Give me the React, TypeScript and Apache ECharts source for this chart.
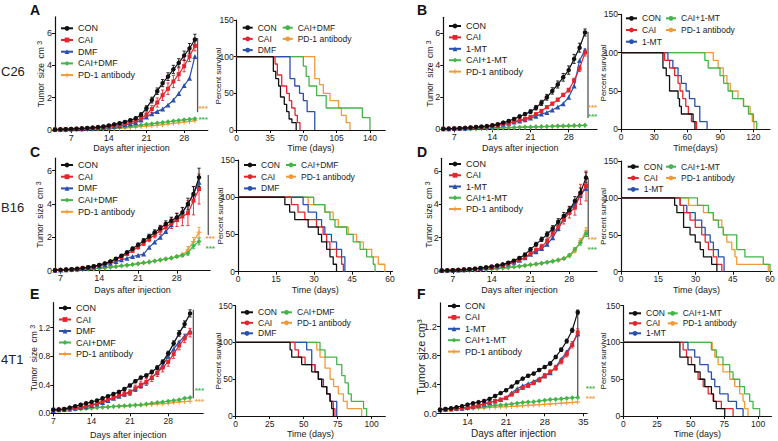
import React, { useEffect, useRef } from "react";
import * as echarts from "echarts";

const FONT = "'Liberation Sans', Arial, Helvetica, sans-serif";
const BLACK = "#111111";
const RED = "#e3262d";
const BLUE = "#2a50ad";
const GREEN = "#43b54a";
const ORANGE = "#f29a35";
const INK = "#222222";

// ---------- categories ----------
const GROUPS_DMF = ["CON", "CAI", "DMF", "CAI+DMF", "PD-1 antibody"];
const GROUPS_MT = ["CON", "CAI", "1-MT", "CAI+1-MT", "PD-1 antibody"];

// ---------- tick labels ----------
const TUMOR_X_TICKS = [7, 14, 21, 28];
const TUMOR_X_TICKS_F = [14, 21, 28, 35];
const TUMOR_Y_TICKS = [0, 2, 4, 6];
const TUMOR_Y_TICKS_4T1 = [0, 0.4, 0.8, 1.2];
const SURV_Y_TICKS = [0, 50, 100, 150];
const SURV_X_TICKS_A = [0, 35, 70, 105, 140];
const SURV_X_TICKS_B = [0, 30, 60, 90, 120];
const SURV_X_TICKS_CD = [0, 15, 30, 45, 60];
const SURV_X_TICKS_EF = [0, 25, 50, 75, 100];

// ---------- tumour growth: measurement days ----------
const DAYS_A = [4, 5, 6, 7, 8, 9, 10, 11, 12, 13, 14, 15, 16, 17, 18, 19, 20, 21, 22, 23, 24, 25, 26, 27, 28, 29, 30];
const DAYS_B = [5, 6, 7, 8, 9, 10, 11, 12, 13, 14, 15, 16, 17, 18, 19, 20, 21, 22, 23, 24, 25, 26, 27, 28, 29, 30, 31];
const DAYS_C = [6, 7, 8, 9, 10, 11, 12, 13, 14, 15, 16, 17, 18, 19, 20, 21, 22, 23, 24, 25, 26, 27, 28, 29, 30, 31, 32];
const DAYS_D = [5, 6, 7, 8, 9, 10, 11, 12, 13, 14, 15, 16, 17, 18, 19, 20, 21, 22, 23, 24, 25, 26, 27, 28, 29, 30, 31];
const DAYS_E = [7, 8, 9, 10, 11, 12, 13, 14, 15, 16, 17, 18, 19, 20, 21, 22, 23, 24, 25, 26, 27, 28, 29, 30, 31, 32];
const DAYS_F = [9, 10, 11, 12, 13, 14, 15, 16, 17, 18, 19, 20, 21, 22, 23, 24, 25, 26, 27, 28, 29, 30, 31, 32, 33, 34];

// ---------- tumour size (cm3) ----------
const A_CON = [0.03, 0.04, 0.05, 0.06, 0.08, 0.10, 0.12, 0.15, 0.18, 0.22, 0.28, 0.35, 0.42, 0.50, 0.60, 0.72, 0.95, 1.35, 1.85, 2.40, 2.90, 3.30, 3.75, 4.15, 4.60, 5.05, 5.60];
const A_CAI = [0.03, 0.04, 0.05, 0.06, 0.07, 0.09, 0.11, 0.13, 0.16, 0.19, 0.23, 0.28, 0.33, 0.40, 0.48, 0.58, 0.72, 0.95, 1.30, 1.70, 2.15, 2.55, 3.00, 3.45, 3.95, 4.55, 5.20];
const A_DMF = [0.03, 0.04, 0.05, 0.06, 0.07, 0.08, 0.10, 0.12, 0.14, 0.16, 0.19, 0.23, 0.27, 0.32, 0.38, 0.46, 0.62, 0.80, 1.00, 1.15, 1.30, 1.55, 1.85, 2.25, 2.75, 3.20, 4.55];
const A_COMBO = [0.02, 0.02, 0.03, 0.03, 0.04, 0.05, 0.06, 0.07, 0.08, 0.10, 0.12, 0.14, 0.17, 0.20, 0.23, 0.27, 0.31, 0.35, 0.39, 0.43, 0.47, 0.51, 0.55, 0.59, 0.63, 0.66, 0.70];
const A_PD1 = [0.01, 0.01, 0.02, 0.02, 0.03, 0.03, 0.04, 0.05, 0.06, 0.07, 0.08, 0.09, 0.11, 0.13, 0.15, 0.18, 0.21, 0.24, 0.27, 0.30, 0.33, 0.37, 0.41, 0.45, 0.49, 0.53, 0.57];
const A_CON_ERR = [0.01, 0.01, 0.01, 0.01, 0.01, 0.02, 0.02, 0.02, 0.03, 0.03, 0.04, 0.04, 0.05, 0.06, 0.07, 0.09, 0.12, 0.15, 0.18, 0.20, 0.22, 0.24, 0.25, 0.26, 0.28, 0.30, 0.32];
const A_CAI_ERR = [0.01, 0.01, 0.01, 0.01, 0.01, 0.02, 0.02, 0.02, 0.03, 0.03, 0.04, 0.04, 0.05, 0.06, 0.08, 0.10, 0.12, 0.18, 0.22, 0.28, 0.32, 0.36, 0.38, 0.38, 0.35, 0.32, 0.30];

const B_CON = [0.03, 0.04, 0.05, 0.07, 0.09, 0.11, 0.14, 0.17, 0.20, 0.25, 0.32, 0.42, 0.52, 0.65, 0.80, 0.95, 1.10, 1.35, 1.65, 2.00, 2.40, 2.80, 3.25, 3.70, 4.40, 5.10, 6.05];
const B_CAI = [0.03, 0.04, 0.05, 0.06, 0.08, 0.10, 0.12, 0.15, 0.18, 0.22, 0.28, 0.34, 0.40, 0.48, 0.56, 0.65, 0.78, 0.95, 1.15, 1.38, 1.60, 1.85, 2.15, 2.45, 3.05, 3.80, 4.80];
const B_MT = [0.03, 0.04, 0.05, 0.06, 0.07, 0.09, 0.11, 0.13, 0.16, 0.20, 0.25, 0.31, 0.38, 0.45, 0.52, 0.60, 0.70, 0.82, 0.95, 1.05, 1.20, 1.40, 1.60, 2.00, 2.70, 4.30, 4.95];
const B_COMBO = [0.02, 0.02, 0.03, 0.03, 0.04, 0.04, 0.05, 0.06, 0.07, 0.08, 0.09, 0.10, 0.11, 0.12, 0.13, 0.14, 0.15, 0.16, 0.17, 0.18, 0.19, 0.20, 0.21, 0.22, 0.23, 0.24, 0.25];
const B_PD1 = [0.01, 0.02, 0.02, 0.03, 0.03, 0.04, 0.04, 0.05, 0.06, 0.07, 0.08, 0.09, 0.10, 0.11, 0.12, 0.13, 0.14, 0.15, 0.16, 0.17, 0.18, 0.19, 0.20, 0.21, 0.22, 0.23, 0.24];
const B_CON_ERR = [0.01, 0.01, 0.01, 0.01, 0.01, 0.02, 0.02, 0.02, 0.03, 0.03, 0.04, 0.05, 0.06, 0.07, 0.09, 0.10, 0.12, 0.14, 0.16, 0.18, 0.20, 0.22, 0.24, 0.26, 0.28, 0.28, 0.22];
const B_CAI_ERR = [0.01, 0.01, 0.01, 0.01, 0.01, 0.01, 0.02, 0.02, 0.02, 0.03, 0.03, 0.03, 0.04, 0.04, 0.05, 0.05, 0.06, 0.06, 0.07, 0.08, 0.09, 0.10, 0.10, 0.12, 0.14, 0.18, 0.22];

const C_CON = [0.03, 0.05, 0.07, 0.09, 0.12, 0.16, 0.21, 0.27, 0.34, 0.44, 0.56, 0.72, 0.90, 1.10, 1.32, 1.55, 1.80, 2.05, 2.30, 2.55, 2.80, 3.00, 3.20, 3.50, 4.00, 4.60, 5.60];
const C_CAI = [0.03, 0.04, 0.06, 0.08, 0.11, 0.15, 0.20, 0.25, 0.32, 0.41, 0.52, 0.66, 0.82, 1.00, 1.20, 1.42, 1.65, 1.90, 2.15, 2.40, 2.60, 2.85, 3.05, 3.25, 3.45, 4.20, 4.90];
const C_DMF = [0.03, 0.04, 0.06, 0.08, 0.10, 0.13, 0.17, 0.22, 0.28, 0.36, 0.45, 0.55, 0.65, 0.75, 0.85, 0.92, 1.00, 1.40, 1.72, 2.00, 2.35, 2.75, 3.10, 3.50, 4.00, 4.60, 5.30];
const C_COMBO = [0.02, 0.03, 0.04, 0.05, 0.06, 0.08, 0.10, 0.12, 0.15, 0.18, 0.21, 0.25, 0.29, 0.33, 0.37, 0.42, 0.47, 0.52, 0.58, 0.64, 0.70, 0.76, 0.85, 0.92, 1.05, 1.50, 1.75];
const C_PD1 = [0.02, 0.03, 0.04, 0.05, 0.06, 0.08, 0.10, 0.12, 0.15, 0.18, 0.21, 0.25, 0.29, 0.33, 0.37, 0.42, 0.47, 0.52, 0.58, 0.64, 0.70, 0.76, 0.85, 0.95, 1.25, 1.75, 2.30];
const C_CON_ERR = [0.01, 0.01, 0.01, 0.01, 0.02, 0.02, 0.02, 0.03, 0.03, 0.04, 0.05, 0.06, 0.07, 0.08, 0.10, 0.11, 0.12, 0.14, 0.15, 0.17, 0.19, 0.21, 0.24, 0.28, 0.35, 0.45, 0.55];
const C_CAI_ERR = [0.01, 0.01, 0.01, 0.01, 0.02, 0.02, 0.02, 0.03, 0.03, 0.04, 0.05, 0.06, 0.07, 0.08, 0.10, 0.12, 0.14, 0.16, 0.18, 0.22, 0.26, 0.32, 0.40, 0.55, 0.75, 0.85, 0.90];
const C_COMBO_ERR = [0.01, 0.01, 0.01, 0.01, 0.01, 0.01, 0.01, 0.01, 0.02, 0.02, 0.02, 0.02, 0.02, 0.03, 0.03, 0.03, 0.03, 0.04, 0.04, 0.04, 0.05, 0.05, 0.06, 0.08, 0.12, 0.18, 0.20];
const C_PD1_ERR = [0.01, 0.01, 0.01, 0.01, 0.01, 0.01, 0.01, 0.01, 0.02, 0.02, 0.02, 0.02, 0.02, 0.03, 0.03, 0.03, 0.03, 0.04, 0.04, 0.04, 0.05, 0.05, 0.06, 0.10, 0.20, 0.25, 0.30];

const D_CON = [0.03, 0.04, 0.05, 0.07, 0.09, 0.11, 0.14, 0.18, 0.22, 0.27, 0.33, 0.40, 0.50, 0.62, 0.78, 0.98, 1.30, 1.60, 1.90, 2.20, 2.55, 2.95, 3.30, 3.65, 4.20, 4.70, 5.60];
const D_CAI = [0.03, 0.04, 0.05, 0.06, 0.08, 0.10, 0.13, 0.16, 0.20, 0.24, 0.29, 0.35, 0.43, 0.53, 0.66, 0.82, 1.05, 1.25, 1.45, 1.80, 2.25, 2.65, 3.10, 3.50, 3.80, 4.60, 5.10];
const D_MT = [0.03, 0.04, 0.05, 0.06, 0.08, 0.10, 0.12, 0.15, 0.19, 0.23, 0.28, 0.34, 0.42, 0.52, 0.64, 0.80, 1.00, 1.15, 1.35, 1.60, 2.00, 2.55, 3.10, 3.60, 4.00, 4.55, 4.95];
const D_COMBO = [0.02, 0.02, 0.03, 0.04, 0.05, 0.06, 0.07, 0.09, 0.11, 0.13, 0.15, 0.18, 0.21, 0.25, 0.29, 0.33, 0.37, 0.42, 0.47, 0.53, 0.59, 0.66, 0.75, 0.95, 1.30, 1.70, 2.25];
const D_PD1 = [0.01, 0.02, 0.03, 0.03, 0.04, 0.05, 0.06, 0.08, 0.10, 0.12, 0.14, 0.17, 0.20, 0.24, 0.28, 0.32, 0.36, 0.41, 0.46, 0.52, 0.58, 0.65, 0.75, 0.90, 1.20, 1.80, 2.40];
const D_CON_ERR = [0.01, 0.01, 0.01, 0.01, 0.01, 0.02, 0.02, 0.02, 0.03, 0.03, 0.04, 0.05, 0.06, 0.07, 0.08, 0.09, 0.10, 0.12, 0.13, 0.15, 0.17, 0.19, 0.21, 0.23, 0.26, 0.28, 0.32];
const D_CAI_ERR = [0.01, 0.01, 0.01, 0.01, 0.01, 0.02, 0.02, 0.02, 0.03, 0.03, 0.04, 0.05, 0.06, 0.07, 0.08, 0.09, 0.11, 0.13, 0.15, 0.17, 0.20, 0.24, 0.28, 0.32, 0.45, 0.60, 0.90];
const D_COMBO_ERR = [0.01, 0.01, 0.01, 0.01, 0.01, 0.01, 0.01, 0.01, 0.02, 0.02, 0.02, 0.02, 0.02, 0.03, 0.03, 0.03, 0.03, 0.04, 0.04, 0.04, 0.05, 0.05, 0.06, 0.07, 0.10, 0.15, 0.18];
const D_PD1_ERR = [0.01, 0.01, 0.01, 0.01, 0.01, 0.01, 0.01, 0.01, 0.02, 0.02, 0.02, 0.02, 0.02, 0.03, 0.03, 0.03, 0.03, 0.04, 0.04, 0.04, 0.05, 0.05, 0.06, 0.07, 0.10, 0.15, 0.20];

const E_CON = [0.05, 0.055, 0.06, 0.08, 0.10, 0.12, 0.14, 0.16, 0.18, 0.21, 0.24, 0.27, 0.30, 0.34, 0.39, 0.45, 0.50, 0.53, 0.58, 0.64, 0.72, 0.84, 0.98, 1.12, 1.25, 1.40];
const E_CAI = [0.05, 0.05, 0.06, 0.07, 0.08, 0.09, 0.10, 0.12, 0.14, 0.17, 0.19, 0.22, 0.25, 0.27, 0.29, 0.35, 0.40, 0.44, 0.50, 0.57, 0.64, 0.72, 0.83, 0.95, 1.05, 1.13];
const E_DMF = [0.04, 0.05, 0.055, 0.06, 0.07, 0.08, 0.09, 0.11, 0.13, 0.15, 0.18, 0.21, 0.24, 0.27, 0.30, 0.34, 0.39, 0.44, 0.50, 0.57, 0.67, 0.80, 0.90, 1.00, 1.08, 1.15];
const E_COMBO = [0.04, 0.045, 0.05, 0.055, 0.06, 0.065, 0.07, 0.075, 0.08, 0.085, 0.09, 0.095, 0.10, 0.105, 0.11, 0.115, 0.12, 0.13, 0.14, 0.15, 0.16, 0.17, 0.18, 0.19, 0.21, 0.22];
const E_PD1 = [0.04, 0.045, 0.05, 0.055, 0.06, 0.065, 0.07, 0.075, 0.08, 0.085, 0.09, 0.095, 0.10, 0.10, 0.105, 0.11, 0.115, 0.12, 0.125, 0.13, 0.135, 0.14, 0.15, 0.16, 0.165, 0.17];
const E_CON_ERR = [0.005, 0.005, 0.005, 0.006, 0.007, 0.008, 0.009, 0.01, 0.01, 0.012, 0.013, 0.014, 0.015, 0.016, 0.018, 0.02, 0.02, 0.022, 0.024, 0.026, 0.028, 0.03, 0.035, 0.04, 0.045, 0.05];
const E_CAI_ERR = [0.005, 0.005, 0.005, 0.006, 0.007, 0.008, 0.01, 0.012, 0.015, 0.018, 0.02, 0.025, 0.03, 0.035, 0.04, 0.045, 0.05, 0.05, 0.055, 0.055, 0.06, 0.06, 0.06, 0.06, 0.06, 0.06];

const F_CON = [0.05, 0.06, 0.07, 0.085, 0.10, 0.12, 0.14, 0.155, 0.17, 0.20, 0.24, 0.28, 0.32, 0.37, 0.43, 0.48, 0.52, 0.55, 0.60, 0.64, 0.69, 0.78, 0.88, 1.00, 1.15, 1.40];
const F_CAI = [0.05, 0.055, 0.06, 0.065, 0.07, 0.08, 0.09, 0.11, 0.13, 0.15, 0.17, 0.19, 0.21, 0.26, 0.31, 0.35, 0.38, 0.42, 0.46, 0.52, 0.57, 0.63, 0.72, 0.82, 0.95, 1.12];
const F_MT = [0.05, 0.055, 0.06, 0.065, 0.07, 0.08, 0.09, 0.11, 0.13, 0.15, 0.17, 0.19, 0.22, 0.28, 0.34, 0.38, 0.41, 0.44, 0.48, 0.52, 0.56, 0.64, 0.75, 0.85, 0.96, 1.10];
const F_COMBO = [0.05, 0.055, 0.06, 0.065, 0.07, 0.075, 0.08, 0.085, 0.09, 0.10, 0.11, 0.115, 0.12, 0.13, 0.14, 0.15, 0.155, 0.16, 0.17, 0.18, 0.19, 0.195, 0.20, 0.21, 0.215, 0.22];
const F_PD1 = [0.05, 0.052, 0.055, 0.06, 0.062, 0.065, 0.07, 0.072, 0.075, 0.08, 0.085, 0.09, 0.092, 0.095, 0.10, 0.105, 0.11, 0.115, 0.12, 0.125, 0.13, 0.135, 0.14, 0.145, 0.15, 0.155];
const F_CON_ERR = [0.004, 0.004, 0.005, 0.005, 0.006, 0.007, 0.008, 0.008, 0.009, 0.01, 0.011, 0.012, 0.013, 0.014, 0.015, 0.016, 0.017, 0.018, 0.019, 0.02, 0.021, 0.022, 0.024, 0.026, 0.028, 0.03];
const F_CAI_ERR = [0.004, 0.004, 0.005, 0.005, 0.006, 0.007, 0.008, 0.009, 0.01, 0.011, 0.012, 0.013, 0.015, 0.017, 0.019, 0.021, 0.023, 0.025, 0.027, 0.03, 0.032, 0.034, 0.037, 0.04, 0.045, 0.05];

// significance bracket: [x day, top, bottom], stars: [value, colour index]
const SIG_A = { x: 30.5, top: 5.69, bottom: 1.1, stars: [[1.3, 4], [0.68, 3]] };
const SIG_B = { x: 31.55, top: 6.1, bottom: 0.7, stars: [[1.37, 4], [0.79, 3]] };
const SIG_C = { x: 33.67, top: 5.74, bottom: 2.14, stars: [[1.94, 4], [1.34, 3]] };
const SIG_D = { x: 31.4, top: 5.58, bottom: 2.04, stars: [[1.9, 4], [1.3, 3]] };
const SIG_E = { x: 32.6, top: 1.45, bottom: 0.21, stars: [[0.32, 3], [0.16, 4]] };
const SIG_F = { x: 34.0, top: 1.41, bottom: 0.24, stars: [[0.35, 3], [0.21, 4]] };

// ---------- survival (Kaplan-Meier: [day, percent]) ----------
const SA_CON = [[0, 100], [38.5, 80], [41, 70], [44, 60], [46, 45], [50, 35], [52.5, 25], [55, 15], [58, 10], [62.5, 0]];
const SA_CAI = [[0, 100], [40.3, 90], [42.7, 75], [47.3, 60], [52.5, 50], [55.3, 40], [57.8, 30], [61.3, 20], [63.7, 10], [66.5, 0]];
const SA_DMF = [[0, 100], [56, 70], [61, 60], [66, 50], [70, 40], [74, 25], [82, 0]];
const SA_COMBO = [[0, 100], [70, 87], [73, 73], [76, 60], [84, 47], [94, 30], [132, 17], [140, 0]];
const SA_PD1 = [[0, 100], [82, 70], [87, 62], [91, 50], [98, 40], [107, 30], [110, 20], [115, 10], [119, 0]];

const SB_CON = [[0, 100], [38, 80], [41, 70], [44, 50], [51.7, 40], [53, 30], [54.7, 20], [65.3, 10], [67, 0]];
const SB_CAI = [[0, 100], [39.5, 90], [44, 80], [48.6, 70], [51.7, 60], [53.5, 50], [56, 40], [58.7, 30], [61, 20], [63.8, 10], [68.4, 0]];
const SB_MT = [[0, 100], [42.5, 90], [47, 80], [51.7, 70], [54.7, 60], [59, 50], [62, 40], [66.9, 30], [71.4, 10], [78, 0]];
const SB_COMBO = [[0, 100], [76, 90], [79, 80], [89.7, 70], [93, 60], [97, 50], [101, 40], [111, 30], [115.5, 20], [120, 10], [123, 0]];
const SB_PD1 = [[0, 100], [83.6, 90], [88, 80], [92.7, 70], [96, 60], [99, 50], [106, 40], [111, 30], [117, 20], [119, 10], [120.5, 0]];

const SC_CON = [[0, 100], [18.5, 90], [20.4, 80], [22.4, 70], [27.7, 60], [31.7, 50], [33, 40], [35, 30], [36.3, 20], [37.6, 10], [38.9, 0]];
const SC_CAI = [[0, 100], [21.1, 90], [23.7, 80], [26.4, 70], [31, 60], [33.6, 50], [35, 40], [36.3, 30], [38.9, 20], [40.9, 10], [41.6, 0]];
const SC_DMF = [[0, 100], [25.7, 90], [27.7, 80], [31, 70], [33, 60], [34.3, 50], [36.9, 40], [38.9, 30], [40.9, 20], [42.2, 0]];
const SC_COMBO = [[0, 100], [29.9, 90], [34.3, 80], [36.3, 70], [38.3, 60], [42.9, 50], [45.5, 40], [48.2, 30], [50.8, 20], [53.4, 10], [54.1, 0]];
const SC_PD1 = [[0, 100], [27.7, 90], [34.3, 80], [37.6, 70], [39.6, 60], [43.5, 50], [46.8, 40], [49.5, 30], [52.8, 20], [55.4, 10], [58, 0]];

const SD_CON = [[0, 100], [21.6, 90], [22.5, 80], [25.2, 60], [27.8, 50], [29.9, 40], [31.9, 30], [33.2, 20], [36.5, 10], [38.6, 0]];
const SD_CAI = [[0, 100], [23.8, 90], [25.2, 80], [27.8, 70], [29.9, 60], [32.5, 50], [33.9, 40], [35.2, 30], [37.2, 20], [38.6, 10], [40.6, 0]];
const SD_MT = [[0, 100], [23.8, 90], [26.5, 80], [29.9, 70], [32.5, 60], [33.9, 50], [35.9, 40], [37.2, 30], [39.2, 20], [41.5, 0]];
const SD_COMBO = [[0, 100], [30.8, 90], [35.2, 80], [37.2, 70], [39.2, 60], [41.2, 50], [46.6, 30], [49.9, 20], [57.3, 10], [60, 0]];
const SD_PD1 = [[0, 100], [27.2, 90], [33.2, 80], [37.2, 70], [40.6, 60], [41.2, 50], [42.6, 40], [44.6, 30], [45.9, 20], [46.6, 10], [59.3, 0]];

const SE_CON = [[0, 100], [40, 90], [41.2, 80], [48.5, 70], [55.9, 60], [60.8, 50], [63.2, 40], [66.9, 30], [69.4, 20], [70.6, 10], [71.8, 0]];
const SE_CAI = [[0, 100], [43.6, 90], [46.1, 80], [51, 70], [58.3, 60], [60.8, 50], [63.2, 40], [66.9, 30], [69.4, 20], [71.8, 10], [73, 0]];
const SE_DMF = [[0, 100], [52.2, 90], [55.9, 70], [58.3, 60], [60.8, 50], [64.5, 40], [66.9, 30], [69.4, 20], [74.3, 0]];
const SE_COMBO = [[0, 100], [62, 90], [65.7, 80], [74.3, 70], [78, 55], [80.4, 45], [82.8, 30], [85, 20], [94, 10], [96.3, 0]];
const SE_PD1 = [[0, 100], [59.6, 90], [62, 80], [65.7, 65], [69.4, 50], [72, 40], [75.5, 30], [79.2, 20], [82, 10], [92.6, 0]];

const SF_CON = [[0, 100], [42, 80], [48, 70], [53, 60], [57, 50], [60.5, 40], [65.4, 30], [67, 20], [69, 10], [75.3, 0]];
const SF_CAI = [[0, 100], [44.4, 90], [46.9, 80], [50.6, 70], [53, 60], [55.5, 50], [59.3, 40], [63, 30], [66.7, 20], [72.8, 10], [81.5, 0]];
const SF_MT = [[0, 100], [48, 90], [53, 80], [56.8, 70], [63, 60], [65.4, 50], [67.9, 40], [71.6, 30], [77.8, 20], [84, 10], [88.9, 0]];
const SF_COMBO = [[0, 100], [65.4, 90], [69, 80], [74, 70], [79, 60], [81.5, 50], [86.4, 40], [90, 30], [93.8, 20], [96.3, 10], [101.2, 0]];
const SF_PD1 = [[0, 100], [66, 90], [67.9, 80], [70.4, 70], [74, 60], [79, 50], [82.7, 40], [86.4, 30], [88.9, 20], [90.1, 10], [92.6, 0]];

// ---------- styles ----------
const COLORS = [BLACK, RED, BLUE, GREEN, ORANGE];
const SYMBOLS = ["circle", "rect", "triangle", "diamond", "path://M2,0L3,0L3,5L2,5Z M0,2L5,2L5,3L0,3Z"];
const SYMBOL_SIZES = [4.5, 4, 5, 5, 5];

const TUMOR_PANELS: any[] = [
  { id: "A", groups: GROUPS_DMF, days: DAYS_A, values: [A_CON, A_CAI, A_DMF, A_COMBO, A_PD1], errors: [A_CON_ERR, A_CAI_ERR, null, null, null], xTicks: TUMOR_X_TICKS, yTicks: TUMOR_Y_TICKS, sig: SIG_A,
    L: { grid: [55, 16.8, 152.8, 113.2], xMin: 4, xMax: 32.4, yMax: 7, xGap: 13.5, yTitle: [40.5, 74], legend: [60, 23.3, 1.7], starDx: 5.5, lab: 9, nameFs: 8.5 } },
  { id: "B", groups: GROUPS_MT, days: DAYS_B, values: [B_CON, B_CAI, B_MT, B_COMBO, B_PD1], errors: [B_CON_ERR, B_CAI_ERR, null, null, null], xTicks: TUMOR_X_TICKS, yTicks: TUMOR_Y_TICKS, sig: SIG_B,
    L: { grid: [443.3, 17.3, 153.7, 112], xMin: 5, xMax: 33.2, yMax: 7, xGap: 14, yTitle: [429.5, 73.5], legend: [448, 21, 1.4], starDx: 4.5, lab: 9, nameFs: 8.5 } },
  { id: "C", groups: GROUPS_DMF, days: DAYS_C, values: [C_CON, C_CAI, C_DMF, C_COMBO, C_PD1], errors: [C_CON_ERR, C_CAI_ERR, null, C_COMBO_ERR, C_PD1_ERR], xTicks: TUMOR_X_TICKS, yTicks: TUMOR_Y_TICKS, sig: SIG_C,
    L: { grid: [55, 158.2, 155.1, 112.5], xMin: 6, xMax: 34, yMax: 6.75, xGap: 14.5, yTitle: [39.5, 214.5], legend: [60, 160, 1.7], starDx: 2, lab: 9, nameFs: 8.5 } },
  { id: "D", groups: GROUPS_MT, days: DAYS_D, values: [D_CON, D_CAI, D_MT, D_COMBO, D_PD1], errors: [D_CON_ERR, D_CAI_ERR, null, D_COMBO_ERR, D_PD1_ERR], xTicks: TUMOR_X_TICKS, yTicks: TUMOR_Y_TICKS, sig: SIG_D,
    L: { grid: [441.7, 158.3, 155.4, 112.7], xMin: 5, xMax: 33, yMax: 6.76, xGap: 14.5, yTitle: [428.5, 214.5], legend: [448, 159, 1.25], starDx: 4, lab: 9, nameFs: 8.5 } },
  { id: "E", groups: GROUPS_DMF, days: DAYS_E, values: [E_CON, E_CAI, E_DMF, E_COMBO, E_PD1], errors: [E_CON_ERR, E_CAI_ERR, null, null, null], xTicks: TUMOR_X_TICKS, yTicks: TUMOR_Y_TICKS_4T1, sig: SIG_E,
    L: { grid: [53.3, 302.7, 149.9, 110.6], xMin: 7, xMax: 34.4, yMax: 1.55, xGap: 17, yTitle: [33.5, 358], legend: [58, 303, 1.5], starDx: 6, lab: 8.5, nameFs: 8.5, dec: true } },
  { id: "F", groups: GROUPS_MT, days: DAYS_F, values: [F_CON, F_CAI, F_MT, F_COMBO, F_PD1], errors: [F_CON_ERR, F_CAI_ERR, null, null, null], xTicks: TUMOR_X_TICKS_F, yTicks: TUMOR_Y_TICKS_4T1, sig: SIG_F,
    L: { grid: [440, 302.8, 147.1, 110.5], xMin: 9, xMax: 35.7, yMax: 1.53, xGap: 15.5, yTitle: [421, 357], legend: [447, 301, 1.4], starDx: 12.7, lab: 9.5, nameFs: 11, big: true, dec: true } },
];

const SURV_PANELS: any[] = [
  { id: "SA", groups: GROUPS_DMF, curves: [SA_CON, SA_CAI, SA_DMF, SA_COMBO, SA_PD1], xTicks: SURV_X_TICKS_A, xName: "Time (days)",
    L: { grid: [236.7, 20, 148.5, 110], xMax: 156, xGap: 13.5, yTitle: [218.3, 76], leg: [[241.7, 22.7, 1.2, 10], [281.7, 22.7, 1.2, 10]] } },
  { id: "SB", groups: GROUPS_MT, curves: [SB_CON, SB_CAI, SB_MT, SB_COMBO, SB_PD1], xTicks: SURV_X_TICKS_B, xName: "Time(days)",
    L: { grid: [621, 14.4, 149, 114.9], xMax: 135, xGap: 14.5, yTitle: [603.3, 73], leg: [[625, 13.3, 1.7, 11], [665, 13.3, 1.7, 10]] } },
  { id: "SC", groups: GROUPS_DMF, curves: [SC_CON, SC_CAI, SC_DMF, SC_COMBO, SC_PD1], xTicks: SURV_X_TICKS_CD, xName: "Time (days)",
    L: { grid: [238, 160, 154.5, 111.7], xMax: 61, xGap: 13.5, yTitle: [220, 216], leg: [[243, 160, 1.7, 12], [285, 160, 1.7, 10]] } },
  { id: "SD", groups: GROUPS_MT, curves: [SD_CON, SD_CAI, SD_MT, SD_COMBO, SD_PD1], xTicks: SURV_X_TICKS_CD, xName: "Time (days)",
    L: { grid: [621, 161, 151, 110.7], xMax: 60.8, xGap: 13.5, yTitle: [603.3, 216.5], leg: [[626.7, 161.7, 1.3, 11], [665, 161.7, 1.3, 10]] } },
  { id: "SE", groups: GROUPS_DMF, curves: [SE_CON, SE_CAI, SE_DMF, SE_COMBO, SE_PD1], xTicks: SURV_X_TICKS_EF, xName: "Time (days)",
    L: { grid: [235.7, 305.7, 149.6, 110.3], xMax: 110, xGap: 13, yTitle: [218.3, 361], leg: [[240, 307.3, 0.5, 12], [280, 307.3, 0.5, 11]] } },
  { id: "SF", groups: GROUPS_MT, curves: [SF_CON, SF_CAI, SF_MT, SF_COMBO, SF_PD1], xTicks: SURV_X_TICKS_EF, xName: "Time (days)",
    L: { grid: [623.3, 305.7, 148.2, 110.3], xMax: 110, xGap: 13, yTitle: [603.3, 361], leg: [[628, 308.3, 0, 12], [666.7, 308.3, 0, 10]] } },
];

const ROW_LABELS = [["C26", 1, 65], ["B16", 1, 201], ["4T1", 1, 353]];
const PANEL_LETTERS = [["A", 30, 3], ["B", 417, 3], ["C", 30, 145], ["D", 417, 145], ["E", 30, 287], ["F", 417, 287]];

const stripKey = (n: string) => n.slice(n.indexOf("|") + 1);
const AXIS_LINE = { show: true, onZero: false, lineStyle: { color: BLACK, width: 1.2 } };
const NAME_STYLE = { color: INK, fontFamily: FONT, fontSize: 9 };

function yTitle(text: string, pos: number[], fontSize: number, rich?: any) {
  return {
    type: "text", x: pos[0], y: pos[1], rotation: Math.PI / 2, silent: true,
    style: { text, fontSize, fontFamily: FONT, fill: INK, align: "center", verticalAlign: "middle", rich },
  };
}

function buildOption() {
  const grid: any[] = [];
  const xAxis: any[] = [];
  const yAxis: any[] = [];
  const series: any[] = [];
  const legend: any[] = [];
  const graphic: any[] = [];
  let gi = 0;

  TUMOR_PANELS.forEach((p) => {
    const L = p.L;
    const lab = { color: INK, fontFamily: FONT, fontSize: L.lab, margin: 3 };
    grid.push({ left: L.grid[0], top: L.grid[1], width: L.grid[2], height: L.grid[3], containLabel: false, outerBoundsMode: "none" });
    xAxis.push({
      gridIndex: gi, type: "value", min: L.xMin, max: L.xMax,
      name: "Days after injection", nameLocation: "middle", nameGap: L.xGap, nameMoveOverlap: false,
      nameTextStyle: { ...NAME_STYLE, fontSize: L.big ? 10 : 9 },
      axisLine: AXIS_LINE, splitLine: { show: false },
      axisTick: { show: true, length: 3, lineStyle: { color: BLACK }, customValues: p.xTicks },
      axisLabel: { ...lab, margin: 3, customValues: p.xTicks },
    });
    yAxis.push({
      gridIndex: gi, type: "value", min: 0, max: L.yMax,
      axisLine: AXIS_LINE, splitLine: { show: false },
      axisTick: { show: true, length: 3, lineStyle: { color: BLACK }, customValues: p.yTicks },
      axisLabel: { ...lab, customValues: p.yTicks, formatter: (v: number) => (L.dec ? v.toFixed(1) : String(v)) },
    });
    graphic.push(
      L.big
        ? yTitle("Tumor size cm³", L.yTitle, L.nameFs)
        : yTitle("Tumor  size  cm {s|3}", L.yTitle, L.nameFs, { s: { fontSize: 7, fontFamily: FONT, fill: INK, verticalAlign: "top", lineHeight: 6 } })
    );
    const keys: string[] = [];
    for (let k = 4; k >= 0; k--) {
      const key = p.id + "|" + p.groups[k];
      const data = p.days.map((d: number, i: number) => [d, p.values[k][i]]);
      series.push({
        type: "line", name: key, xAxisIndex: gi, yAxisIndex: gi, data,
        symbol: SYMBOLS[k], symbolSize: SYMBOL_SIZES[k], showSymbol: true,
        lineStyle: { color: COLORS[k], width: 1.2 }, itemStyle: { color: COLORS[k] },
        z: 4 + (4 - k), clip: false,
      });
      const errs = p.errors[k];
      if (errs) {
        const color = COLORS[k];
        series.push({
          type: "custom", name: key + "|err", xAxisIndex: gi, yAxisIndex: gi, silent: true, z: 3,
          data: p.days.map((d: number, i: number) => [d, p.values[k][i], errs[i]]),
          renderItem: (params: any, api: any) => {
            const x = api.value(0), y = api.value(1), e = api.value(2);
            const t = api.coord([x, y + e]);
            const b = api.coord([x, y - e]);
            const st = { stroke: color, lineWidth: 0.9 };
            return {
              type: "group",
              children: [
                { type: "line", shape: { x1: t[0], y1: t[1], x2: b[0], y2: b[1] }, style: st },
                { type: "line", shape: { x1: t[0] - 1.6, y1: t[1], x2: t[0] + 1.6, y2: t[1] }, style: st },
                { type: "line", shape: { x1: b[0] - 1.6, y1: b[1], x2: b[0] + 1.6, y2: b[1] }, style: st },
              ],
            };
          },
        });
      }
    }
    for (let k = 0; k < 5; k++) keys.push(p.id + "|" + p.groups[k]);
    const sig = p.sig;
    series.push({
      type: "custom", name: p.id + "|sig", xAxisIndex: gi, yAxisIndex: gi, silent: true, z: 6, clip: false,
      data: [[sig.x, sig.top, sig.bottom]],
      renderItem: (params: any, api: any) => {
        const a = api.coord([api.value(0), api.value(1)]);
        const b = api.coord([api.value(0), api.value(2)]);
        const children: any[] = [
          { type: "line", shape: { x1: a[0], y1: a[1], x2: b[0], y2: b[1] }, style: { stroke: "#555", lineWidth: 1.3 } },
        ];
        sig.stars.forEach((s: number[]) => {
          const c = api.coord([sig.x, s[0]]);
          children.push({
            type: "text", x: c[0] + L.starDx, y: c[1],
            style: { text: "***", fill: COLORS[s[1]], fontSize: 8, fontWeight: "bold", fontFamily: FONT, align: "center", verticalAlign: "middle" },
          });
        });
        return { type: "group", children };
      },
    });
    legend.push({
      orient: "vertical", left: L.legend[0], top: L.legend[1], itemGap: L.legend[2], padding: 0,
      itemWidth: 12, itemHeight: 6, selectedMode: false, data: keys, formatter: stripKey,
      textStyle: { fontSize: 9, fontFamily: FONT, color: INK, lineHeight: 10 },
    });
    gi++;
  });

  SURV_PANELS.forEach((p) => {
    const L = p.L;
    const lab = { color: INK, fontFamily: FONT, fontSize: 8.5, margin: 3 };
    grid.push({ left: L.grid[0], top: L.grid[1], width: L.grid[2], height: L.grid[3], containLabel: false, outerBoundsMode: "none" });
    xAxis.push({
      gridIndex: gi, type: "value", min: 0, max: L.xMax,
      name: p.xName, nameLocation: "middle", nameGap: L.xGap, nameMoveOverlap: false, nameTextStyle: NAME_STYLE,
      axisLine: AXIS_LINE, splitLine: { show: false },
      axisTick: { show: true, length: 3, lineStyle: { color: BLACK }, customValues: p.xTicks },
      axisLabel: { ...lab, margin: 3, customValues: p.xTicks },
    });
    yAxis.push({
      gridIndex: gi, type: "value", min: 0, max: 150,
      axisLine: AXIS_LINE, splitLine: { show: false },
      axisTick: { show: true, length: 3, lineStyle: { color: BLACK }, customValues: SURV_Y_TICKS },
      axisLabel: { ...lab, customValues: SURV_Y_TICKS },
    });
    graphic.push(yTitle("Percent survival", L.yTitle, 8));
    const keys: string[] = [];
    for (let k = 0; k < 5; k++) {
      const key = p.id + "|" + p.groups[k];
      keys.push(key);
      series.push({
        type: "line", name: key, xAxisIndex: gi, yAxisIndex: gi, step: "end", data: p.curves[k],
        symbol: "none", lineStyle: { color: COLORS[k], width: 1.3 }, itemStyle: { color: COLORS[k] }, z: 8 - k,
      });
    }
    const cols = [keys.slice(0, 3), keys.slice(3)];
    cols.forEach((ks, ci) => {
      const c = L.leg[ci];
      legend.push({
        orient: "vertical", left: c[0], top: c[1], itemGap: c[2], padding: 0,
        itemWidth: c[3], itemHeight: 6, selectedMode: false, data: ks, formatter: stripKey,
        textStyle: { fontSize: 8.5, fontFamily: FONT, color: INK, lineHeight: 10 },
      });
    });
    gi++;
  });

  ROW_LABELS.forEach((r: any) => {
    graphic.push({ type: "text", left: r[1], top: r[2], style: { text: r[0], fontSize: 13, fontFamily: FONT, fill: INK } });
  });
  PANEL_LETTERS.forEach((r: any) => {
    graphic.push({ type: "text", left: r[1], top: r[2], style: { text: r[0], fontSize: 14, fontWeight: "bold", fontFamily: FONT, fill: BLACK } });
  });

  return {
    animation: false,
    backgroundColor: "#ffffff",
    textStyle: { fontFamily: FONT },
    grid, xAxis, yAxis, series, legend, graphic,
  };
}

export default function App() {
  const ref = useRef<HTMLDivElement>(null);
  useEffect(() => {
    if (!ref.current) return;
    const chart = echarts.init(ref.current, null, { renderer: "svg" });
    chart.setOption(buildOption() as any);
    return () => chart.dispose();
  }, []);
  return <div ref={ref} style={{ position: "absolute", left: 0, top: 0, width: 778, height: 441, background: "#fff" }} />;
}
